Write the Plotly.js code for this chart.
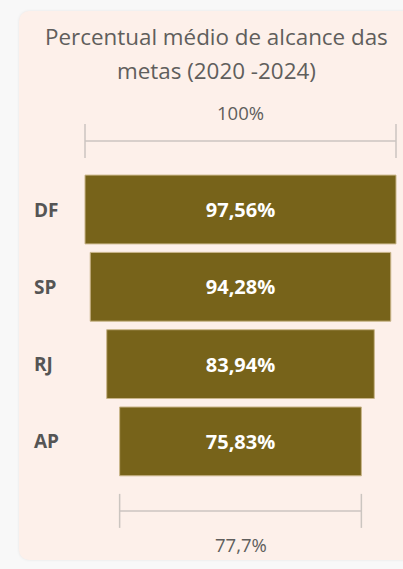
<!DOCTYPE html>
<html><head><meta charset="utf-8">
<script src="https://cdn.plot.ly/plotly-3.0.1.min.js"></script>
<style>
html,body{margin:0;padding:0;width:403px;height:569px;overflow:hidden;background:#f8f8f8;}
#card{position:absolute;left:19px;top:11px;width:396px;height:549px;background:#fdf0ea;border-radius:10px;box-shadow:0 0 3px rgba(0,0,0,0.08);}
#chart{position:absolute;left:0;top:0;width:403px;height:569px;}
</style></head><body>
<div id="card"></div>
<div id="chart"></div>
<script>
const categories = ['DF', 'SP', 'RJ', 'AP'];
const values = [97.56, 94.28, 83.94, 75.83];
const titleLines = ['Percentual médio de alcance das', 'metas (2020 -2024)'];
const topLabel = '100%';
const ratioLast = values[values.length - 1] / values[0] * 100; // 77,7%
const bottomLabel = ratioLast.toFixed(1).replace('.', ',') + '%';

const fmt = v => v.toFixed(2).replace('.', ',') + '%';
const barColor = '#77631a';
const lineColor = '#cbc5c0';
const textGray = '#605e5c';
const font = 'Open Sans, Noto Sans, sans-serif';

const idx = categories.map((c, i) => i);
const trace = {
  type: 'bar', orientation: 'h',
  y: idx, x: values, base: values.map(v => -v / 2),
  text: values.map(fmt), textposition: 'inside', insidetextanchor: 'middle',
  textfont: {family: font, size: 20, color: '#ffffff', weight: 'bold'},
  marker: {color: barColor, line: {color: '#c9b589', width: 1}},
  hoverinfo: 'skip', width: 0.89
};

const n = categories.length;
const first = values[0], last = values[n - 1];
const yTop = -0.886, yBot = n - 1 + 0.899, tk = 0.22;
const shapes = [
  {type: 'line', xref: 'x', yref: 'y', x0: -first / 2, x1: first / 2, y0: yTop, y1: yTop},
  {type: 'line', xref: 'x', yref: 'y', x0: -first / 2, x1: -first / 2, y0: yTop - tk, y1: yTop + tk},
  {type: 'line', xref: 'x', yref: 'y', x0: first / 2, x1: first / 2, y0: yTop - tk, y1: yTop + tk},
  {type: 'line', xref: 'x', yref: 'y', x0: -last / 2, x1: last / 2, y0: yBot, y1: yBot},
  {type: 'line', xref: 'x', yref: 'y', x0: -last / 2, x1: -last / 2, y0: yBot - tk, y1: yBot + tk},
  {type: 'line', xref: 'x', yref: 'y', x0: last / 2, x1: last / 2, y0: yBot - tk, y1: yBot + tk}
].map(s => Object.assign(s, {line: {color: lineColor, width: 1.5}, layer: 'below'}));

const annotations = categories.map((c, i) => ({
  xref: 'paper', yref: 'y', x: -0.1495, y: i, xanchor: 'left', yanchor: 'middle',
  text: c, showarrow: false, font: {family: font, size: 19, color: '#555555', weight: 'bold'}
}));
annotations.push({xref: 'x', yref: 'y', x: 0, y: -1.25, text: topLabel, showarrow: false,
  font: {family: font, size: 18.5, color: textGray}});
annotations.push({xref: 'x', yref: 'y', x: 0, y: n - 1 + 1.33, text: bottomLabel, showarrow: false,
  font: {family: font, size: 18.5, color: textGray}});
const titleCenters = [36.5, 70.5];
titleLines.forEach((t, i) => annotations.push({xref: 'paper', yref: 'paper', x: 0.4237, y: 1,
  xanchor: 'center', yanchor: 'middle', yshift: 100 - titleCenters[i],
  text: t, showarrow: false, font: {family: font, size: 22.4, color: textGray}}));

const pxPerUnit = 77.3, zeroPx = 209.5, topPx = 100, botPx = 560;
const layout = {
  width: 403, height: 569,
  margin: {l: 80, r: 2, t: topPx, b: 569 - botPx, pad: 0},
  paper_bgcolor: 'rgba(0,0,0,0)', plot_bgcolor: 'rgba(0,0,0,0)',
  showlegend: false,
  xaxis: {range: [-50.35, 50.35], visible: false, fixedrange: true},
  yaxis: {range: [(botPx - zeroPx) / pxPerUnit, -(zeroPx - topPx) / pxPerUnit], visible: false, fixedrange: true},
  shapes: shapes, annotations: annotations
};
Plotly.newPlot('chart', [trace], layout, {displayModeBar: false, staticPlot: true});
</script>
</body></html>
